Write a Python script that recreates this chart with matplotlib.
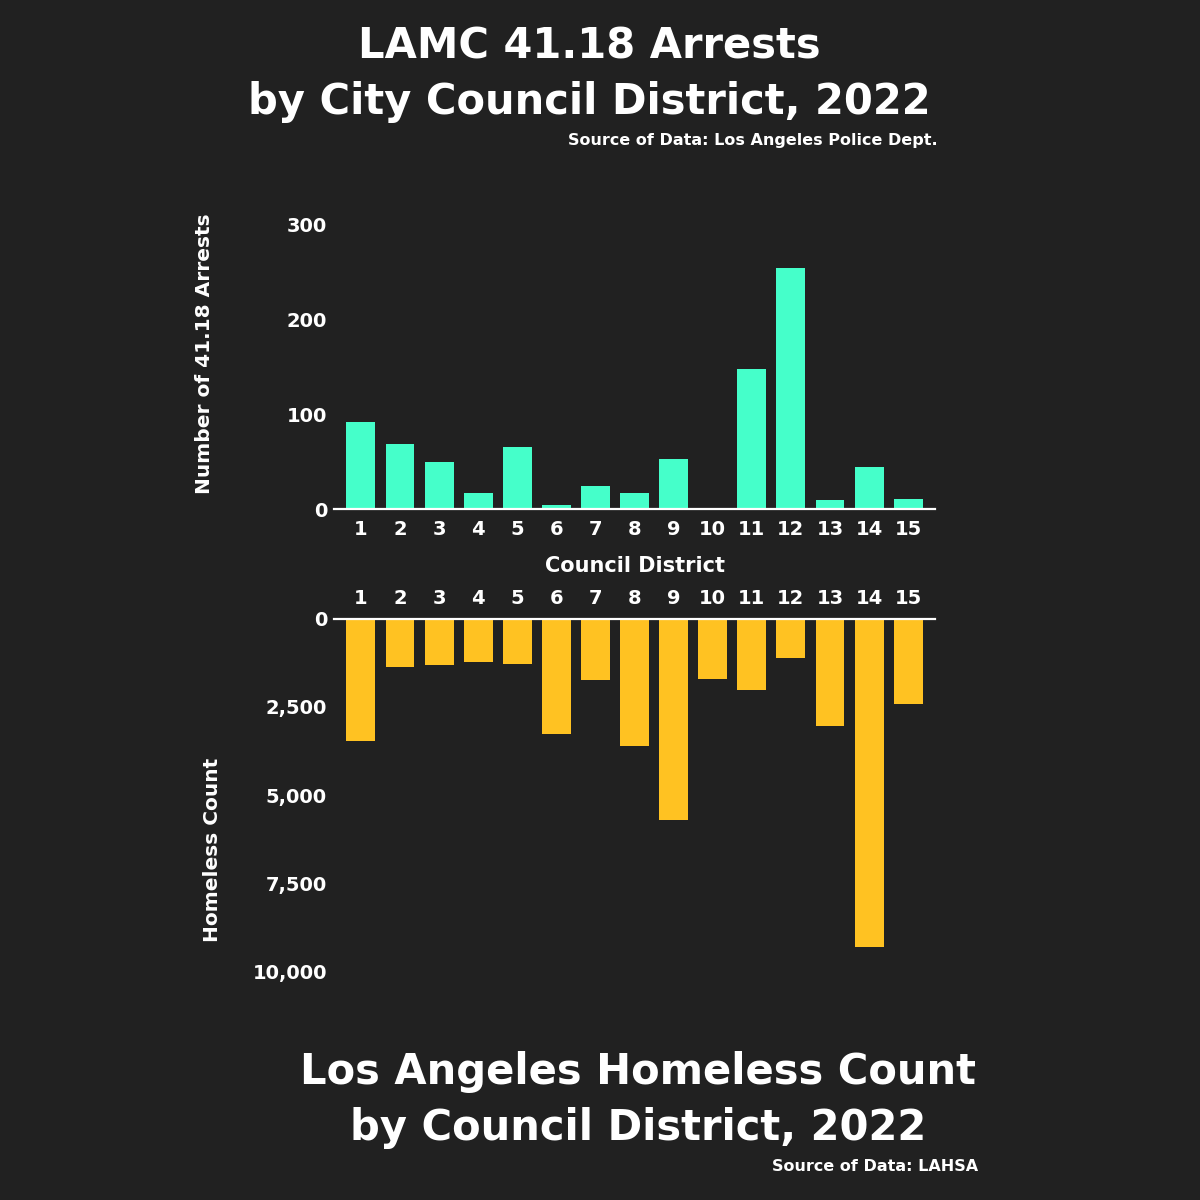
import matplotlib
matplotlib.use("Agg")
import matplotlib.pyplot as plt

districts = [str(i) for i in range(1, 16)]
arrests = [92, 69, 50, 17, 66, 4, 24, 17, 53, 0, 148, 255, 10, 44, 11]
homeless = [3456, 1369, 1322, 1228, 1294, 3277, 1747, 3617, 5713, 1700, 2030, 1105, 3032, 9293, 2408]
arrest_ticks = [0, 100, 200, 300]
homeless_ticks = [0, 2500, 5000, 7500, 10000]
homeless_tick_labels = ["0", "2,500", "5,000", "7,500", "10,000"]

BG = "#212121"
TEAL = "#45FFCA"
YELLOW = "#FFC222"
FONT = "DejaVu Sans"

plt.rcParams["font.family"] = [FONT]
plt.rcParams["font.weight"] = "bold"

fig = plt.figure(figsize=(12, 12), dpi=100, facecolor=BG)
x = list(range(1, 16))

# Top chart
ax1 = fig.add_axes([0.2783, 0.5758, 0.501, 0.2367], facecolor=BG)
ax1.bar(x, arrests, width=0.74, color=TEAL)
ax1.set_xlim(0.31, 15.69)
ax1.set_ylim(0, 300)
ax1.set_yticks(arrest_ticks)
ax1.set_xticks(x)
ax1.set_xticklabels(districts)
for s in ["top", "right", "left"]:
    ax1.spines[s].set_visible(False)
ax1.spines["bottom"].set_color("white")
ax1.spines["bottom"].set_linewidth(1.6)
ax1.tick_params(length=0, colors="white", labelsize=14)
ax1.tick_params(axis="x", pad=8)
ax1.tick_params(axis="y", pad=5)
ax1.set_xlabel("Council District", color="white", fontsize=15, fontweight="bold", labelpad=12)
fig.text(0.170, 0.705, "Number of 41.18 Arrests", rotation=90, color="white",
         fontsize=14.5, fontweight="bold", ha="center", va="center")

# Bottom chart
ax2 = fig.add_axes([0.2783, 0.1903, 0.501, 0.2941], facecolor=BG)
ax2.bar(x, homeless, width=0.74, color=YELLOW)
ax2.set_xlim(0.31, 15.69)
ax2.set_ylim(10000, 0)
ax2.set_yticks(homeless_ticks)
ax2.set_yticklabels(homeless_tick_labels)
ax2.set_xticks(x)
ax2.set_xticklabels(districts)
ax2.xaxis.tick_top()
for s in ["bottom", "right", "left"]:
    ax2.spines[s].set_visible(False)
ax2.spines["top"].set_color("white")
ax2.spines["top"].set_linewidth(1.6)
ax2.tick_params(length=0, colors="white", labelsize=14)
ax2.tick_params(axis="x", pad=8)
ax2.tick_params(axis="y", pad=5)
fig.text(0.177, 0.292, "Homeless Count", rotation=90, color="white",
         fontsize=14.5, fontweight="bold", ha="center", va="center")

# Titles
fig.text(0.491, 0.961, "LAMC 41.18 Arrests", color="white", fontsize=30,
         fontweight="bold", ha="center", va="center")
fig.text(0.491, 0.915, "by City Council District, 2022", color="white", fontsize=30,
         fontweight="bold", ha="center", va="center")
fig.text(0.781, 0.883, "Source of Data: Los Angeles Police Dept.", color="white",
         fontsize=11.5, fontweight="bold", ha="right", va="center")

fig.text(0.532, 0.107, "Los Angeles Homeless Count", color="white", fontsize=30,
         fontweight="bold", ha="center", va="center")
fig.text(0.532, 0.060, "by Council District, 2022", color="white", fontsize=30,
         fontweight="bold", ha="center", va="center")
fig.text(0.815, 0.028, "Source of Data: LAHSA", color="white",
         fontsize=11.5, fontweight="bold", ha="right", va="center")

fig.savefig("out.png", dpi=100, facecolor=BG)
